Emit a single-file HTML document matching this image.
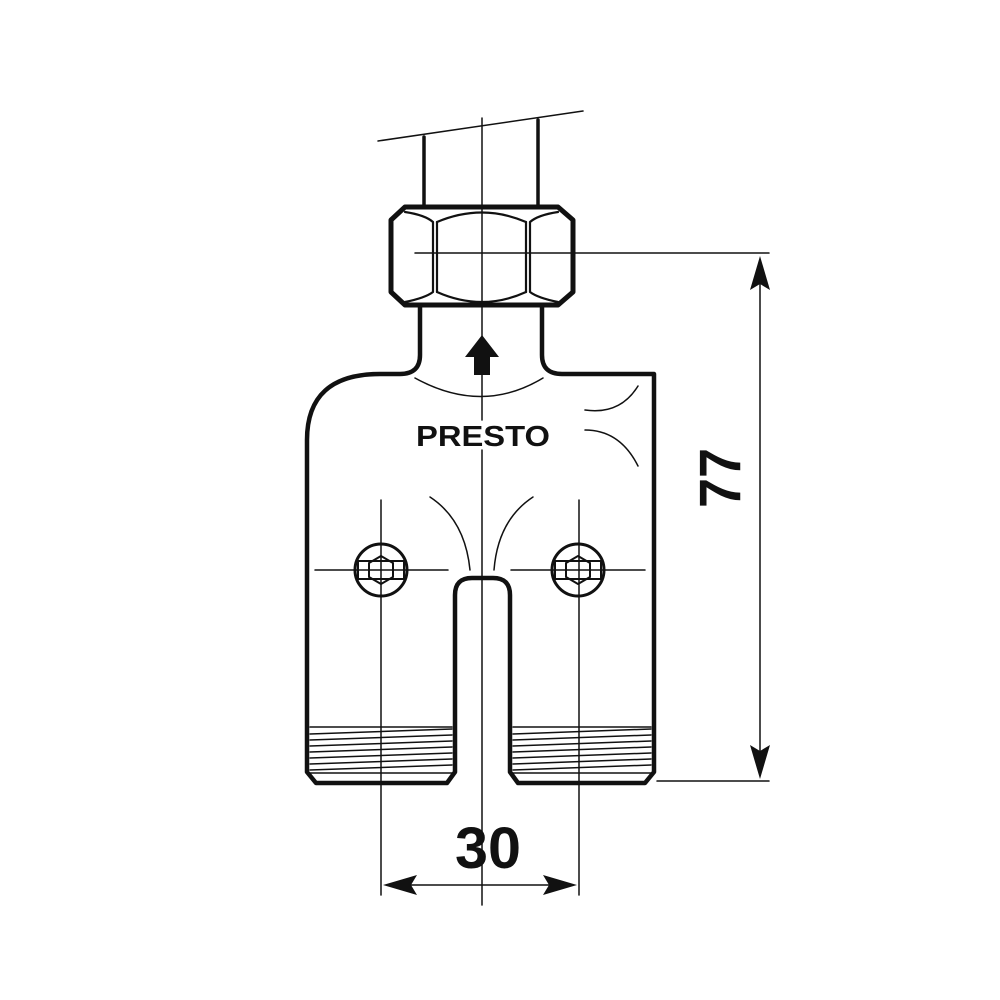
<!DOCTYPE html>
<html><head><style>html,body{margin:0;padding:0;background:#fff}svg{display:block}</style></head>
<body>
<svg width="1000" height="1000" viewBox="0 0 1000 1000" xmlns="http://www.w3.org/2000/svg">
<g fill="none" stroke="#111" stroke-linecap="round" stroke-linejoin="round">
<g stroke-width="1.5">
<line x1="378" y1="141" x2="583" y2="111"/>
<line x1="482" y1="118" x2="482" y2="420"/>
<line x1="482" y1="450" x2="482" y2="905"/>
<line x1="415" y1="253" x2="573" y2="253"/>
<line x1="575" y1="253" x2="769" y2="253"/>
<line x1="657" y1="781" x2="769" y2="781"/>
<line x1="760" y1="262" x2="760" y2="772"/>
<line x1="381" y1="500" x2="381" y2="895"/>
<line x1="579" y1="500" x2="579" y2="895"/>
<line x1="390" y1="885" x2="570" y2="885"/>
<line x1="315" y1="570" x2="448" y2="570"/>
<line x1="511" y1="570" x2="645" y2="570"/>
<path d="M415 378 Q482 415 543 378"/>
<path d="M430 497 Q465 520 470 570"/>
<path d="M533 497 Q498 520 494 570"/>
<path d="M638 386 Q620 415 585 410"/>
<path d="M585 430 Q620 430 638 466"/>
</g>
<g stroke-width="3.5">
<line x1="424" y1="137" x2="424" y2="207"/>
<line x1="538" y1="120" x2="538" y2="207"/>
</g>
<path d="M405 207 L558 207 L573 220 L573 292 L558 305 L405 305 L391 292 L391 220 Z" stroke-width="5"/>
<g stroke-width="2.2">
<path d="M405 212 Q425 215 433 222 L433 292 Q425 298 405 302"/>
<path d="M558 212 Q538 215 530 222 L530 292 Q538 298 558 302"/>
<line x1="437" y1="222" x2="437" y2="292"/><line x1="526" y1="222" x2="526" y2="292"/>
<path d="M437 222 Q482 203 526 222"/><path d="M437 292 Q482 312 526 292"/>
</g>
<path d="M420 305 L420 355 Q420 374 400 374 L380 374 Q307 374 307 440 L307 772 L316 783 L447 783 L455 772 L455 595 Q455 578 472 578 L493 578 Q510 578 510 595 L510 772 L518 783 L645 783 L654 772 L654 374 L562 374 Q542 374 542 355 L542 305" stroke-width="4.5"/>
<g stroke-width="1.5">
<line x1="310" y1="727" x2="452" y2="727"/><line x1="513" y1="727" x2="651" y2="727"/>
<line x1="310" y1="773" x2="452" y2="773"/><line x1="513" y1="773" x2="651" y2="773"/>
<path d="M310 734 L452 729 M310 740 L452 735 M310 746 L452 741 M310 752 L452 747 M310 758 L452 753 M310 764 L452 759 M310 770 L452 765"/>
<path d="M513 734 L651 729 M513 740 L651 735 M513 746 L651 741 M513 752 L651 747 M513 758 L651 753 M513 764 L651 759 M513 770 L651 765"/>
</g>
<g stroke-width="3">
<circle cx="381" cy="570" r="26"/><circle cx="578" cy="570" r="26"/>
</g>
<g stroke-width="2">
<rect x="358" y="561" width="46" height="18"/><rect x="555" y="561" width="46" height="18"/>
<path d="M381 556 L393 563 L393 577 L381 584 L369 577 L369 563 Z"/>
<path d="M578 556 L590 563 L590 577 L578 584 L566 577 L566 563 Z"/>
</g>
</g>
<g fill="#111">
<path d="M760 256 L750 290 L760 284 L770 290 Z"/>
<path d="M760 779 L750 745 L760 751 L770 745 Z"/>
<path d="M383 885 L417 875 L411 885 L417 895 Z"/>
<path d="M577 885 L543 875 L549 885 L543 895 Z"/>
<path d="M482 335 L465 357 L474 357 L474 375 L490 375 L490 357 L499 357 Z"/>
</g>
<g font-family="Liberation Sans, sans-serif" font-weight="bold" fill="#111">
<text x="483" y="446" font-size="29" text-anchor="middle" textLength="134" lengthAdjust="spacingAndGlyphs">PRESTO</text>
<text x="488" y="868" font-size="58" text-anchor="middle" textLength="66" lengthAdjust="spacingAndGlyphs">30</text>
<text transform="translate(740,478) rotate(-90)" font-size="58" text-anchor="middle" textLength="60" lengthAdjust="spacingAndGlyphs">77</text>
</g>
</svg>
</body></html>
